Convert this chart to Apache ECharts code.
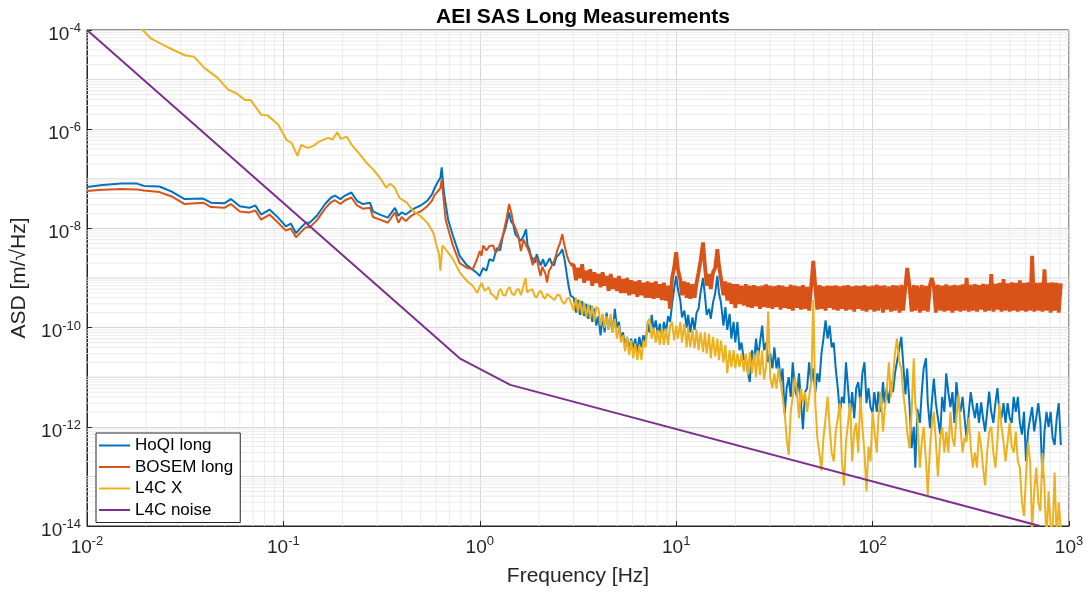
<!DOCTYPE html>
<html>
<head>
<meta charset="utf-8">
<script src="https://cdn.jsdelivr.net/npm/echarts@6/dist/echarts.min.js"></script>
<style>
  html, body { margin: 0; padding: 0; background: #fff; }
  #chart { width: 1089px; height: 592px; }
</style>
</head>
<body>
<div id="chart"></div>
<script>
// low-frequency part: [frequency Hz, ASD m/sqrt(Hz)]
const hoqiLow = [
  [0.01, 6.8e-8], [0.012, 7.5e-8], [0.015, 8.0e-8], [0.018, 8.0e-8], [0.0195, 7.2e-8], [0.0234, 7.0e-8],
  [0.027, 5.5e-8], [0.0314, 3.9e-8], [0.039, 4.0e-8], [0.0428, 3.3e-8], [0.05, 3.2e-8], [0.054, 3.9e-8],
  [0.06, 2.8e-8], [0.067, 2.6e-8], [0.072, 2.9e-8], [0.077, 1.9e-8], [0.085, 2.4e-8], [0.094, 1.65e-8],
  [0.103, 1.1e-8], [0.109, 1.25e-8], [0.116, 8.0e-9], [0.123, 1.05e-8], [0.13, 1.3e-8], [0.136, 1.3e-8],
  [0.148, 1.8e-8], [0.163, 3.1e-8], [0.175, 4.2e-8], [0.183, 4.6e-8], [0.195, 3.9e-8], [0.206, 4.6e-8],
  [0.222, 5.3e-8], [0.237, 3.6e-8], [0.254, 3.1e-8], [0.276, 3.3e-8], [0.286, 2.2e-8], [0.31, 1.9e-8],
  [0.34, 1.65e-8], [0.37, 2.6e-8], [0.385, 1.8e-8], [0.40, 2.1e-8], [0.42, 1.9e-8], [0.44, 2.2e-8],
  [0.47, 2.6e-8], [0.5, 2.9e-8], [0.54, 3.6e-8], [0.57, 4.8e-8], [0.59, 6.6e-8], [0.61, 8.5e-8],
  [0.63, 1.05e-7], [0.64, 1.7e-7], [0.65, 8e-8], [0.66, 4.6e-8], [0.69, 1.5e-8], [0.73, 7.1e-9],
  [0.79, 2.8e-9], [0.86, 1.8e-9], [0.96, 1.3e-9], [1.0, 1.1e-9], [1.04, 1.6e-9], [1.08, 1.4e-9],
  [1.12, 2.4e-9], [1.17, 2.2e-9], [1.22, 4e-9], [1.27, 3.6e-9], [1.31, 7e-9], [1.35, 1.0e-8],
  [1.41, 2.1e-8], [1.44, 1.4e-8], [1.48, 1.2e-8], [1.52, 7.5e-9], [1.57, 6.5e-9], [1.62, 5.6e-9],
  [1.67, 7e-9], [1.72, 9.6e-9], [1.75, 4.5e-9], [1.78, 4e-9], [1.82, 2.8e-9], [1.86, 2.6e-9],
  [1.9, 2.0e-9], [1.95, 3e-9], [2.0, 2.2e-9], [2.04, 1.8e-9], [2.1, 2.4e-9], [2.15, 1.7e-9],
  [2.2, 2.0e-9], [2.27, 2.5e-9], [2.33, 1.9e-9], [2.39, 1.8e-9], [2.45, 2.6e-9], [2.5, 2.5e-9],
  [2.57, 3.2e-9], [2.63, 3.8e-9], [2.7, 2.4e-9], [2.78, 1.1e-9], [2.84, 6.5e-10], [2.9, 4.4e-10]
];

const bosemLow = [
  [0.01, 5.7e-8], [0.012, 6.0e-8], [0.015, 6.2e-8], [0.018, 6.1e-8], [0.0195, 5.8e-8], [0.0234, 5.4e-8],
  [0.027, 4.4e-8], [0.0314, 3.1e-8], [0.039, 3.3e-8], [0.0428, 2.7e-8], [0.05, 2.6e-8], [0.054, 3.1e-8],
  [0.06, 2.2e-8], [0.067, 2.1e-8], [0.072, 2.3e-8], [0.077, 1.5e-8], [0.085, 1.9e-8], [0.094, 1.3e-8],
  [0.103, 9e-9], [0.109, 1.0e-8], [0.116, 6.6e-9], [0.123, 8.5e-9], [0.13, 1.05e-8], [0.136, 1.05e-8],
  [0.148, 1.45e-8], [0.163, 2.5e-8], [0.175, 3.4e-8], [0.183, 3.7e-8], [0.195, 3.1e-8], [0.206, 3.7e-8],
  [0.222, 4.2e-8], [0.237, 2.9e-8], [0.254, 2.5e-8], [0.276, 2.6e-8], [0.286, 1.7e-8], [0.31, 1.5e-8],
  [0.34, 1.3e-8], [0.37, 2.1e-8], [0.385, 1.3e-8], [0.40, 1.7e-8], [0.42, 1.4e-8], [0.44, 1.7e-8],
  [0.47, 2.0e-8], [0.5, 2.2e-8], [0.54, 2.8e-8], [0.57, 3.6e-8], [0.59, 4.8e-8], [0.61, 5.5e-8],
  [0.63, 6.5e-8], [0.64, 9.6e-8], [0.65, 5e-8], [0.67, 1.5e-8], [0.7, 8e-9], [0.73, 4.5e-9],
  [0.79, 2.0e-9], [0.86, 1.6e-9], [0.92, 1.5e-9], [0.96, 2.2e-9], [1.0, 3.5e-9], [1.02, 2.8e-9],
  [1.04, 4.5e-9], [1.08, 3.6e-9], [1.12, 4.4e-9], [1.17, 4.5e-9], [1.2, 3.3e-9], [1.23, 3.5e-9],
  [1.27, 5.0e-9], [1.3, 6.5e-9], [1.32, 8.3e-9], [1.37, 1.6e-8], [1.41, 3.1e-8], [1.45, 2.0e-8],
  [1.48, 1.3e-8], [1.52, 1.0e-8], [1.57, 7.1e-9], [1.62, 3.5e-9], [1.67, 6e-9], [1.72, 4.5e-9],
  [1.76, 3.8e-9], [1.8, 3e-9], [1.86, 1.8e-9], [1.9, 2.6e-9], [1.95, 2.4e-9], [2.0, 1.5e-9],
  [2.04, 1.1e-9], [2.08, 1.7e-9], [2.12, 1.8e-9], [2.16, 1.2e-9], [2.2, 8.2e-10], [2.25, 1.4e-9],
  [2.3, 1.6e-9], [2.35, 2.0e-9], [2.39, 2.2e-9], [2.45, 3.0e-9], [2.5, 4e-9], [2.56, 5e-9],
  [2.63, 7.6e-9], [2.7, 4.5e-9], [2.78, 2.8e-9], [2.84, 2.2e-9], [2.9, 1.9e-9]
];

const l4cLow = [
  [0.018, 1.3e-4], [0.0211, 6.8e-5], [0.024, 5.2e-5], [0.0274, 4.0e-5], [0.0314, 3.1e-5], [0.035, 2.9e-5],
  [0.0397, 1.7e-5], [0.0464, 1.07e-5], [0.0523, 6.3e-6], [0.0576, 5.3e-6], [0.0636, 3.9e-6], [0.068, 3.9e-6],
  [0.0772, 1.95e-6], [0.083, 1.9e-6], [0.094, 1.24e-6], [0.104, 6e-7], [0.11, 5.3e-7], [0.118, 2.9e-7],
  [0.123, 4.8e-7], [0.133, 4.2e-7], [0.142, 4.6e-7], [0.153, 5.7e-7], [0.169, 6.7e-7], [0.178, 6.2e-7],
  [0.188, 8.7e-7], [0.196, 6.4e-7], [0.21, 7.1e-7], [0.222, 4.9e-7], [0.245, 3.1e-7], [0.265, 2.1e-7],
  [0.286, 1.55e-7], [0.31, 1.05e-7], [0.334, 6.6e-8], [0.35, 8e-8], [0.37, 6.5e-8], [0.39, 4.1e-8],
  [0.425, 3.3e-8], [0.46, 2.2e-8], [0.497, 1.8e-8], [0.54, 1.3e-8], [0.58, 8.2e-9], [0.6, 4.8e-9],
  [0.62, 3e-9], [0.63, 1.4e-9], [0.645, 4.5e-9], [0.67, 3.8e-9], [0.73, 2.4e-9], [0.79, 1.3e-9],
  [0.86, 8.7e-10], [0.92, 7e-10], [0.97, 5e-10], [1.02, 8e-10], [1.06, 5.5e-10], [1.11, 6.5e-10],
  [1.14, 4.8e-10], [1.17, 4.5e-10], [1.22, 3.7e-10], [1.25, 5.5e-10], [1.28, 6e-10], [1.31, 4.6e-10],
  [1.35, 4.4e-10], [1.38, 5.8e-10], [1.42, 6.5e-10], [1.46, 4.8e-10], [1.5, 4.5e-10], [1.54, 5.8e-10],
  [1.58, 6e-10], [1.62, 4.5e-10], [1.65, 4.2e-10], [1.71, 1.0e-9], [1.74, 5.2e-10], [1.76, 4.8e-10],
  [1.8, 5.6e-10], [1.85, 6e-10], [1.9, 4.4e-10], [1.95, 4e-10], [2.0, 5.2e-10], [2.05, 5.5e-10],
  [2.1, 4.2e-10], [2.15, 3.8e-10], [2.2, 4.8e-10], [2.25, 5.2e-10], [2.32, 4.0e-10], [2.4, 3.6e-10],
  [2.48, 4.6e-10], [2.55, 4.5e-10], [2.62, 3.4e-10], [2.7, 3.0e-10], [2.78, 3.8e-10], [2.85, 4e-10]
];

// high-frequency sample grid (Hz), 3 Hz .. 909 Hz
const hfFreq = [
  3.01, 3.09, 3.16, 3.24, 3.32, 3.40, 3.48, 3.57, 3.65, 3.74, 3.83, 3.92,
  4.02, 4.12, 4.22, 4.32, 4.42, 4.53, 4.64, 4.75, 4.87, 4.99, 5.11, 5.23,
  5.36, 5.49, 5.62, 5.76, 5.90, 6.04, 6.19, 6.34, 6.49, 6.65, 6.81, 6.98,
  7.15, 7.32, 7.50, 7.68, 7.87, 8.06, 8.25, 8.45, 8.66, 8.87, 9.09, 9.31,
  9.53, 9.76, 10.0, 10.2, 10.5, 10.7, 11.0, 11.3, 11.5, 11.8, 12.1, 12.4,
  12.7, 13.0, 13.3, 13.7, 14.0, 14.3, 14.7, 15.0, 15.4, 15.8, 16.2, 16.5,
  16.9, 17.4, 17.8, 18.2, 18.7, 19.1, 19.6, 20.0, 20.5, 21.0, 21.5, 22.1,
  22.6, 23.2, 23.7, 24.3, 24.9, 25.5, 26.1, 26.7, 27.4, 28.0, 28.7, 29.4,
  30.1, 30.9, 31.6, 32.4, 33.2, 34.0, 34.8, 35.7, 36.5, 37.4, 38.3, 39.2,
  40.2, 41.2, 42.2, 43.2, 44.2, 45.3, 46.4, 47.5, 48.7, 49.9, 51.1, 52.3,
  53.6, 54.9, 56.2, 57.6, 59.0, 60.4, 61.9, 63.4, 64.9, 66.5, 68.1, 69.8,
  71.5, 73.2, 75.0, 76.8, 78.7, 80.6, 82.5, 84.5, 86.6, 88.7, 90.9, 93.1,
  95.3, 97.6, 100, 102, 105, 107, 110, 113, 115, 118, 121, 124,
  127, 130, 133, 137, 140, 143, 147, 150, 154, 158, 162, 165,
  169, 174, 178, 182, 187, 191, 196, 200, 205, 210, 215, 221,
  226, 232, 237, 243, 249, 255, 261, 267, 274, 280, 287, 294,
  301, 309, 316, 324, 332, 340, 348, 357, 365, 374, 383, 392,
  402, 412, 422, 432, 442, 453, 464, 475, 487, 499, 511, 523,
  536, 549, 562, 576, 590, 604, 619, 634, 649, 665, 681, 698,
  715, 732, 750, 768, 787, 806, 825, 845, 866, 887, 909
];

const hoqiHigh = [
  4e-10, 2e-10, 3.6e-10, 1.8e-10, 3.4e-10, 1.7e-10, 3.0e-10, 1.5e-10, 2.8e-10, 1.3e-10, 2.4e-10, 1.1e-10,
  1.7e-10, 7e-11, 1.8e-10, 8e-11, 2.0e-10, 9e-11, 1.6e-10, 8e-11, 2.4e-10, 1.0e-10, 1.3e-10, 6e-11,
  8e-11, 4e-11, 6.5e-11, 3.5e-11, 6e-11, 3.8e-11, 6e-11, 3.2e-11, 6.5e-11, 4e-11, 7e-11, 5e-11,
  1.2e-10, 8e-11, 1.8e-10, 9e-11, 1.4e-10, 7e-11, 1.2e-10, 6.5e-11, 1.3e-10, 8e-11, 1.7e-10, 1.3e-10,
  3e-10, 6e-10, 1.1e-9, 6e-10, 3.5e-10, 1.6e-10, 2.2e-10, 1.0e-10, 1.8e-10, 8e-11, 1.6e-10, 9e-11,
  2.0e-10, 2.4e-10, 5e-10, 1.0e-9, 4.5e-10, 1.8e-10, 2.4e-10, 1.5e-10, 3.2e-10, 5e-10, 1.1e-9, 5e-10,
  3.2e-10, 1.1e-10, 2.6e-10, 9e-11, 1.9e-10, 6e-11, 1.3e-10, 5e-11, 1.3e-10, 3.5e-11, 5e-11, 2.2e-11,
  2.5e-11, 1.2e-11, 8e-12, 3.5e-11, 2e-11, 6e-11, 2.5e-11, 5e-11, 1.1e-10, 3.5e-11, 5e-11, 2e-11,
  3e-11, 1.5e-11, 4e-11, 1.5e-11, 2.5e-11, 8e-12, 1.5e-11, 1.8e-12, 6e-12, 1e-11, 4e-12, 2e-11,
  6e-12, 4e-12, 1.2e-11, 3e-12, 9e-13, 5e-12, 6e-12, 2e-11, 8e-12, 1.5e-11, 5e-12, 1.2e-11,
  8e-12, 3e-11, 6e-11, 1.4e-10, 6e-11, 1.1e-10, 4e-11, 5e-11, 1.5e-11, 6e-12, 1.9e-12, 4e-12,
  3e-12, 2e-11, 6e-12, 1.8e-12, 5e-12, 1.5e-12, 6e-12, 8e-12, 3e-12, 1.2e-11, 2e-11, 3e-12,
  6e-12, 2.5e-12, 1.9e-12, 5e-12, 2e-12, 5.1e-12, 2e-12, 8e-12, 3e-12, 6e-12, 3e-12, 8e-12,
  5e-12, 1.2e-11, 2e-11, 4e-11, 6.5e-11, 2e-11, 4.5e-12, 1.5e-11, 3e-12, 3.7e-13, 1e-12, 1.5e-13,
  2.3e-12, 1.2e-12, 5e-12, 1.5e-11, 2.4e-11, 3e-12, 9.4e-13, 3e-12, 9.4e-12, 3e-12, 1.5e-12, 7e-13,
  4e-12, 2e-12, 1.2e-11, 5e-12, 2.5e-12, 5e-12, 1.2e-12, 8e-12, 3e-12, 2e-12, 4e-12, 1.5e-12,
  6e-13, 2e-12, 5e-12, 2.5e-12, 1.5e-12, 3e-12, 1.2e-12, 3.1e-12, 1.5e-12, 8e-13, 2e-12, 5.1e-12,
  2e-12, 1.2e-12, 3e-12, 6e-12, 2e-12, 1.5e-12, 3e-12, 1.2e-12, 3e-12, 1.5e-12, 1.2e-12, 4e-12,
  2e-12, 4e-12, 1.2e-12, 7e-13, 2e-12, 2e-13, 8e-13, 1.5e-12, 2.5e-12, 8.1e-13, 1.5e-12, 3e-12,
  1.2e-12, 9.4e-14, 8e-13, 2e-12, 1e-12, 2e-12, 6e-13, 4.3e-13, 1.5e-12, 3e-12, 4.3e-13
];

const bosemHigh = [
  1.8e-9, 9e-10, 1.6e-9, 1.0e-9, 1.9e-9, 8e-10, 1.4e-9, 9e-10, 1.5e-9, 7e-10, 1.3e-9, 8e-10,
  1.2e-9, 6.5e-10, 1.3e-9, 7e-10, 1.1e-9, 5.5e-10, 1.2e-9, 6e-10, 1.0e-9, 5.5e-10, 1.1e-9, 5e-10,
  9.5e-10, 5e-10, 1.0e-9, 4.5e-10, 9e-10, 4.8e-10, 8.5e-10, 4.2e-10, 9e-10, 4.5e-10, 8e-10, 4e-10,
  8.5e-10, 4e-10, 8e-10, 3.8e-10, 8.5e-10, 4e-10, 7.5e-10, 3.6e-10, 8e-10, 3.5e-10, 7e-10, 2.4e-10,
  1.0e-9, 1.6e-9, 3.3e-9, 1.5e-9, 9e-10, 4.5e-10, 8.5e-10, 4e-10, 8e-10, 3.8e-10, 7.5e-10, 4e-10,
  8e-10, 1.3e-9, 2.2e-9, 5.2e-9, 1.8e-9, 7e-10, 1.2e-9, 6e-10, 1.3e-9, 1.6e-9, 3.8e-9, 1.8e-9,
  1.0e-9, 4.5e-10, 8.5e-10, 3.5e-10, 8e-10, 3e-10, 7.5e-10, 2.5e-10, 7.5e-10, 3e-10, 7e-10, 2.8e-10,
  7.5e-10, 2.6e-10, 7e-10, 2.5e-10, 7.2e-10, 2.7e-10, 6.8e-10, 2.4e-10, 7e-10, 2.6e-10, 7.4e-10, 2.5e-10,
  7e-10, 2.4e-10, 6.8e-10, 2.6e-10, 7.2e-10, 2.3e-10, 7e-10, 2.5e-10, 6.6e-10, 2.4e-10, 7.3e-10, 2.2e-10,
  7e-10, 2.5e-10, 6.8e-10, 2.3e-10, 7.2e-10, 2.4e-10, 6.6e-10, 2.2e-10, 7e-10, 2.2e-9, 6.5e-10, 2.3e-10,
  7.2e-10, 2.4e-10, 6.8e-10, 2.2e-10, 7e-10, 2.5e-10, 6.9e-10, 2.3e-10, 7.1e-10, 2.2e-10, 6.8e-10, 2.4e-10,
  7e-10, 2.2e-10, 7.2e-10, 2.3e-10, 6.8e-10, 2.1e-10, 7e-10, 2.4e-10, 6.9e-10, 2.2e-10, 7.2e-10, 2.1e-10,
  6.8e-10, 2.3e-10, 7e-10, 2.1e-10, 7.3e-10, 2.2e-10, 6.9e-10, 2.0e-10, 7.1e-10, 2.3e-10, 6.8e-10, 2.1e-10,
  7.2e-10, 2.2e-10, 7e-10, 2.0e-10, 7.3e-10, 2.2e-10, 6.8e-10, 1.6e-9, 7e-10, 2.1e-10, 7.2e-10, 2.2e-10,
  7e-10, 2.0e-10, 7.3e-10, 2.2e-10, 6.9e-10, 2.1e-10, 7.2e-10, 1.0e-9, 7e-10, 2.0e-10, 7.3e-10, 2.2e-10,
  7e-10, 2.1e-10, 7.4e-10, 2.2e-10, 7e-10, 2.0e-10, 7.3e-10, 2.2e-10, 7.1e-10, 2.1e-10, 7.4e-10, 2.2e-10,
  1.0e-9, 2.1e-10, 7.3e-10, 2.2e-10, 7.5e-10, 2.1e-10, 7.2e-10, 2.3e-10, 7.6e-10, 2.1e-10, 7.4e-10, 2.2e-10,
  1.2e-9, 2.1e-10, 7.6e-10, 2.3e-10, 8e-10, 2.1e-10, 9.5e-10, 2.2e-10, 7.8e-10, 2.1e-10, 8.2e-10, 2.2e-10,
  8e-10, 2.1e-10, 9e-10, 2.2e-10, 8e-10, 2.1e-10, 8.2e-10, 2.2e-10, 2.8e-9, 2.1e-10, 8e-10, 2.2e-10,
  8.1e-10, 2.1e-10, 1.5e-9, 2.2e-10, 8e-10, 2.0e-10, 8.2e-10, 2.2e-10, 8e-10, 2.0e-10, 7.8e-10
];

const l4cHigh = [
  2.2e-10, 4.0e-10, 2.0e-10, 3.6e-10, 1.8e-10, 3.2e-10, 1.6e-10, 3.0e-10, 1.5e-10, 2.8e-10, 1.3e-10, 2.6e-10,
  2.4e-10, 1.1e-10, 1.9e-10, 1.0e-10, 1.7e-10, 9e-11, 1.9e-10, 8e-11, 1.5e-10, 6e-11, 1.1e-10, 5e-11,
  7e-11, 3.3e-11, 6.5e-11, 2.8e-11, 5.5e-11, 2.4e-11, 4.8e-11, 2.2e-11, 4.4e-11, 2.2e-11, 5.5e-11, 4e-11,
  1.3e-10, 1.5e-10, 6e-11, 1.0e-10, 5e-11, 9e-11, 4.5e-11, 1.0e-10, 4.5e-11, 9.5e-11, 4.5e-11, 1.1e-10,
  1.3e-10, 5.5e-11, 1.1e-10, 6e-11, 1.3e-10, 5e-11, 1.2e-10, 4e-11, 1.0e-10, 4e-11, 9e-11, 3.8e-11,
  9e-11, 3.5e-11, 8e-11, 3.2e-11, 8e-11, 3e-11, 7.5e-11, 2.4e-11, 6.5e-11, 2.6e-11, 6e-11, 2.2e-11,
  5.5e-11, 2e-11, 4.5e-11, 1.2e-11, 3.5e-11, 1.6e-11, 3.5e-11, 1.5e-11, 3e-11, 1.6e-11, 3e-11, 1.3e-11,
  3e-11, 1.1e-11, 3.2e-11, 1.2e-11, 3e-11, 1e-11, 3.5e-11, 1.1e-11, 3.5e-11, 9e-12, 1.6e-11, 2.1e-10,
  1e-11, 6e-12, 1.2e-11, 5.8e-12, 1.5e-11, 8e-12, 4e-12, 1.8e-12, 6e-13, 2.7e-13, 2e-12, 4e-12,
  1e-11, 5e-12, 1.5e-12, 6e-12, 3e-12, 5e-12, 2e-12, 4e-12, 8e-12, 3.6e-10, 3e-12, 6e-13,
  3e-13, 1.3e-13, 6e-13, 1.5e-12, 4e-12, 1e-12, 3e-13, 2e-13, 8e-13, 1.5e-12, 3e-12, 2e-13,
  6.6e-14, 5e-13, 1.2e-12, 3e-12, 2e-13, 8e-13, 1.2e-12, 3e-13, 4e-12, 1e-12, 3e-13, 5e-14,
  4e-13, 2e-13, 2e-12, 9e-13, 3e-13, 1.5e-12, 5e-12, 8e-13, 2e-12, 5e-12, 2e-11, 4e-12,
  1e-11, 3e-11, 6e-11, 2e-11, 1.5e-11, 5e-12, 2e-12, 8e-13, 3.7e-13, 2e-12, 2.4e-11, 3e-12,
  1.5e-12, 1.5e-13, 5e-13, 1e-12, 2e-13, 4.3e-14, 4e-13, 1e-12, 2e-12, 5e-13, 1e-13, 6e-13,
  1e-12, 3e-13, 8e-13, 3e-13, 2e-12, 6e-13, 4e-13, 1.5e-12, 4.5e-12, 1e-12, 3e-13, 6e-13,
  5e-13, 1.5e-12, 4e-13, 1.5e-13, 3e-13, 1.5e-13, 8e-13, 4e-13, 1.5e-13, 6.6e-14, 3e-13, 8e-13,
  1e-12, 3e-13, 1.5e-13, 5e-13, 3e-12, 1e-12, 5e-13, 2e-13, 5e-13, 1.2e-12, 4e-13, 3e-13,
  8e-13, 2e-13, 1.5e-13, 3e-14, 1.6e-14, 1e-13, 5e-13, 2e-13, 8e-15, 5e-14, 1.5e-13, 3e-14,
  2e-14, 3e-13, 6e-14, 5e-15, 5e-14, 1e-14, 8e-15, 1.2e-13, 5e-15, 3e-14, 8e-15
];

const l4cNoise = [[0.01, 1e-4], [0.79, 2.4e-11], [1.43, 7.0e-12], [711, 1e-14]];

const seriesNames = ['HoQI long', 'BOSEM long', 'L4C X', 'L4C noise'];
const seriesColors = ['#0072BD', '#D95319', '#EDB120', '#7E2F8E'];

const xDecades = [-2, -1, 0, 1, 2];
const yDecades = [-14, -13, -12, -11, -10, -9, -8, -7, -6, -5];

const font = "'Liberation Sans', Arial, Helvetica, sans-serif";

const highPairs = high => hfFreq.map((f, i) => [f, high[i]]);

// grid: minor lines at 2..9 of each decade, plus the unlabelled odd decades on y
const gridSeries = [];
const gridLine = (data, color) => gridSeries.push({
  type: 'line', data: data, symbol: 'none', silent: true, z: 1,
  lineStyle: { color: color, width: 1 }
});
xDecades.forEach(d => {
  for (let m = 2; m <= 9; m++) {
    const v = m * Math.pow(10, d);
    gridLine([[v, 1e-14], [v, 1e-4]], '#ebebeb');
  }
});
yDecades.forEach(d => {
  for (let m = 2; m <= 9; m++) {
    const v = m * Math.pow(10, d);
    gridLine([[0.01, v], [1000, v]], '#ebebeb');
  }
  if (d % 2 !== 0) gridLine([[0.01, Math.pow(10, d)], [1000, Math.pow(10, d)]], '#d6d6d6');
});

const powLabel = v => '{b|10}{sup|' + Math.round(Math.log10(v)) + '}';
const labelRich = {
  b: { fontSize: 19, color: '#262626', fontFamily: font, verticalAlign: 'bottom' },
  sup: { fontSize: 13, color: '#262626', fontFamily: font, verticalAlign: 'bottom', padding: [0, 0, 9, 0] }
};

const lineSeries = (name, data, color, width) => ({
  name: name,
  type: 'line',
  data: data,
  symbol: 'none',
  showSymbol: false,
  clip: true,
  z: 3,
  lineStyle: { color: color, width: width },
  itemStyle: { color: color }
});

const chart = echarts.init(document.getElementById('chart'));

const option = {
  animation: false,
  backgroundColor: '#fff',
  title: {
    text: 'AEI SAS Long Measurements',
    left: 578,
    top: 2,
    textAlign: 'center',
    textStyle: { fontSize: 21, fontWeight: 'bold', color: '#000', fontFamily: font }
  },
  legend: {
    data: seriesNames,
    orient: 'vertical',
    left: 96,
    top: 433,
    z: 20,
    icon: 'rect',
    padding: [4, 7, 4, 3],
    itemWidth: 31,
    itemHeight: 2,
    itemGap: 4.5,
    backgroundColor: '#fff',
    borderColor: '#262626',
    borderWidth: 1,
    textStyle: { fontSize: 17, color: '#000', fontFamily: font, lineHeight: 16 }
  },
  grid: {
    left: 87, right: 20, top: 30, bottom: 64,
    show: true, borderColor: '#262626', borderWidth: 1
  },
  xAxis: {
    type: 'log',
    logBase: 10,
    min: 0.01,
    max: 1000,
    interval: 1,
    name: 'Frequency [Hz]',
    nameLocation: 'middle',
    nameGap: 40,
    nameTextStyle: { fontSize: 21, color: '#262626', fontFamily: font },
    axisLine: { lineStyle: { color: '#262626' } },
    axisTick: { inside: true, length: 5, lineStyle: { color: '#262626' } },
    axisLabel: { margin: 9, formatter: powLabel, rich: labelRich },
    splitLine: { show: true, lineStyle: { color: '#d6d6d6' } }
  },
  yAxis: {
    type: 'log',
    logBase: 10,
    min: 1e-14,
    max: 1e-4,
    interval: 2,
    name: 'ASD [m/\u221AHz]',
    nameLocation: 'middle',
    nameGap: 55,
    nameRotate: 90,
    nameTextStyle: { fontSize: 21, color: '#262626', fontFamily: font },
    axisLine: { lineStyle: { color: '#262626' } },
    axisTick: { inside: true, length: 5, lineStyle: { color: '#262626' } },
    axisLabel: { margin: 6, padding: [6, 0, 0, 0], formatter: powLabel, rich: labelRich },
    splitLine: { show: true, lineStyle: { color: '#d6d6d6' } }
  },
  series: gridSeries.concat([
    lineSeries(seriesNames[0], hoqiLow.concat(highPairs(hoqiHigh)), seriesColors[0], 2),
    lineSeries(seriesNames[1], bosemLow, seriesColors[1], 2),
    // the dense noise band above 3 Hz is drawn heavier so it reads as a solid band
    lineSeries(seriesNames[1], bosemLow.slice(-1).concat(highPairs(bosemHigh)), seriesColors[1], 3.8),
    lineSeries(seriesNames[2], l4cLow.concat(highPairs(l4cHigh)), seriesColors[2], 2),
    lineSeries(seriesNames[3], l4cNoise, seriesColors[3], 2)
  ])
};

chart.setOption(option);
</script>
</body>
</html>
